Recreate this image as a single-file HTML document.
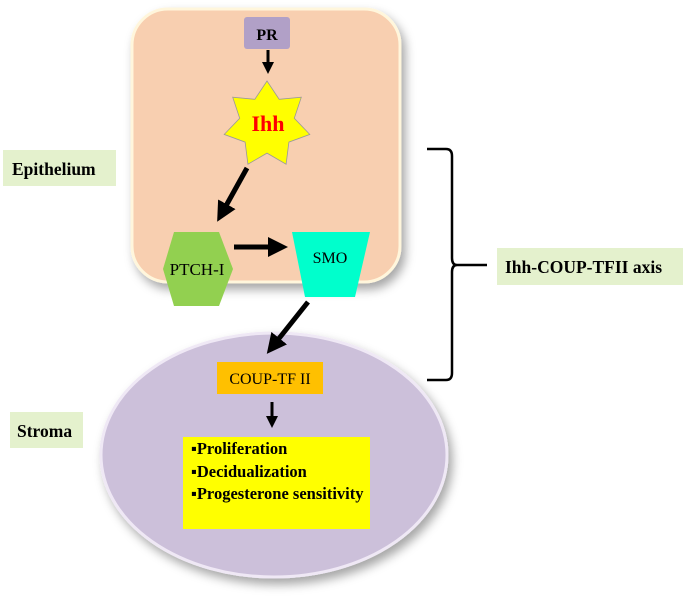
<!DOCTYPE html>
<html><head><meta charset="utf-8"><style>
html,body{margin:0;padding:0;background:#fff;}
svg{display:block;font-family:"Liberation Serif",serif;}
</style></head><body>
<svg width="685" height="596" viewBox="0 0 685 596" xmlns="http://www.w3.org/2000/svg">
<defs>
<filter id="sh" x="-20%" y="-20%" width="140%" height="140%"><feDropShadow dx="4" dy="6" stdDeviation="5" flood-color="#000" flood-opacity="0.35"/></filter>
<marker id="ah" markerWidth="4" markerHeight="4" refX="2" refY="2" orient="auto" markerUnits="strokeWidth"><path d="M0,0 L4,2 L0,4 Z" fill="#000"/></marker>
</defs>
<rect x="132" y="9" width="268" height="273" rx="36" fill="#f8cfb0" stroke="#fff6dc" stroke-width="3" filter="url(#sh)"/>
<ellipse cx="274" cy="455" rx="173" ry="122" fill="#ccc0da" stroke="#efe8f5" stroke-width="3" filter="url(#sh)"/>
<rect x="244" y="17" width="46" height="32" rx="3" fill="#b1a0c7"/>
<text x="267" y="40" font-size="16" font-weight="bold" text-anchor="middle">PR</text>
<line x1="268" y1="50" x2="268" y2="68" stroke="#000" stroke-width="3" marker-end="url(#ah)"/>
<polygon fill="#ffff00" stroke="#999" stroke-width="0.8" points="267,81 279.2,99.3 301.3,97.2 294.3,118.3 309.8,134.4 288.9,142.1 286.1,164.2 267,153.1 247.9,164.2 245.1,142.1 224.2,134.4 239.7,118.3 232.7,97.2 254.8,99.3"/>
<text x="268" y="131" font-size="22" font-weight="bold" fill="#ff0000" text-anchor="middle">Ihh</text>
<line x1="247" y1="168" x2="222" y2="213" stroke="#000" stroke-width="5" marker-end="url(#ah)" />
<polygon fill="#92d050" points="174,232 219,232 233,269 219,306 174,306 163,269"/>
<text x="197" y="275" font-size="17" text-anchor="middle">PTCH-I</text>
<line x1="234" y1="247" x2="278" y2="247" stroke="#000" stroke-width="5" marker-end="url(#ah)"/>
<polygon fill="#00ffcc" points="292,232 370,232 355,297 305,297"/>
<text x="330" y="263" font-size="16" text-anchor="middle">SMO</text>
<line x1="308" y1="302" x2="273" y2="346" stroke="#000" stroke-width="5" marker-end="url(#ah)"/>
<rect x="217" y="362" width="106" height="32" fill="#ffc000"/>
<text x="270" y="384" font-size="16" text-anchor="middle">COUP-TF II</text>
<line x1="272" y1="402" x2="272" y2="422" stroke="#000" stroke-width="3" marker-end="url(#ah)"/>
<rect x="183" y="437" width="187" height="92" fill="#ffff00"/>
<g font-size="16.5" font-weight="bold">
<text x="191" y="454">▪Proliferation</text>
<text x="191" y="477">▪Decidualization</text>
<text x="191" y="499">▪Progesterone sensitivity</text>
</g>
<path d="M427,149 L446,149 Q452,149 452,156 L452,258 Q452,265 457,265 L487,265 M457,265 Q452,265 452,272 L452,373 Q452,380 446,380 L427,380" fill="none" stroke="#000" stroke-width="2.5"/>
<rect x="3" y="150" width="113" height="36" fill="#e4f1cd"/>
<text x="12" y="175" font-size="17.5" font-weight="bold">Epithelium</text>
<rect x="10" y="412" width="73" height="36" fill="#e4f1cd"/>
<text x="17" y="437" font-size="17.5" font-weight="bold">Stroma</text>
<rect x="497" y="248" width="186" height="37" fill="#e4f1cd"/>
<text x="505" y="273" font-size="17.5" font-weight="bold">Ihh-COUP-TFII axis</text>
</svg>
</body></html>
